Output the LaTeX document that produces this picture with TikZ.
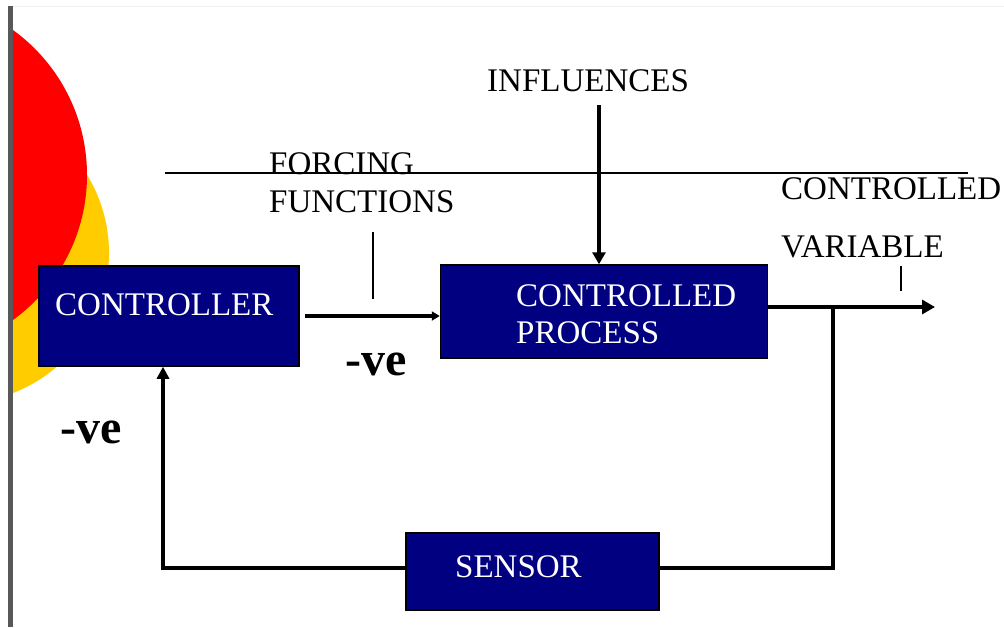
\documentclass[tikz,border=0pt]{standalone}
\usepackage{fontspec}
\setmainfont{Liberation Serif}
\usetikzlibrary{arrows.meta}
\definecolor{navybox}{HTML}{000080}
\definecolor{barcol}{HTML}{585858}
\definecolor{redc}{HTML}{FF0000}
\definecolor{yellowc}{HTML}{FFCC00}
\begin{document}
\begin{tikzpicture}[x=1pt,y=-1pt,
  box/.style={draw=black, line width=1.5pt, fill=navybox, inner sep=0pt},
  lbl/.style={font=\fontsize{33}{38}\selectfont, inner sep=0pt, anchor=base west},
  wlbl/.style={lbl, text=white},
  neg/.style={font=\fontsize{48}{50}\selectfont\bfseries, inner sep=0pt, anchor=base west},
  heavy/.style={line width=4pt},
  light/.style={line width=1.3pt}]
\useasboundingbox (0,0) rectangle (1004,627);
\fill[white] (0,0) rectangle (1004,627);
% background decoration
\begin{scope}
  \clip (13,0) rectangle (1004,627);
  \fill[yellowc] (-41,253) circle[radius=150pt];
  \fill[redc] (-92,175) circle[radius=179pt];
\end{scope}
\draw[color=black!6, line width=1pt] (13,6) -- (1004,6);
\fill[barcol] (8,6) rectangle (13,627);
% boxes
\node[box, minimum width=260pt, minimum height=100pt] (ctrl) at (169,316) {};
\node[box, minimum width=327pt, minimum height=93pt] (proc) at (604,311.5) {};
\node[box, minimum width=253pt, minimum height=77pt] (sens) at (532.5,571.5) {};
% box texts
\node[wlbl] (tctrl) at (55,315) {CONTROLLER};
\node[wlbl] (tproc1) at (516,306) {CONTROLLED};
\node[wlbl] (tproc2) at (516,343) {PROCESS};
\node[wlbl] (tsens) at (455,577) {SENSOR};
% outer labels
\node[lbl] (tinfl) at (487,91) {INFLUENCES};
\node[lbl] (tforce1) at (269,174) {FORCING};
\node[lbl] (tforce2) at (269,212) {FUNCTIONS};
\node[lbl] (tcv1) at (781,199) {CONTROLLED};
\node[lbl] (tcv2) at (781,257) {VARIABLE};
\node[neg] (neg1) at (345,375) {-ve};
\node[neg] (neg2) at (60,443) {-ve};
% thin lines
\coordinate (hl1) at (165,173);
\coordinate (hl2) at (968,173);
\draw[light] (hl1) -- (hl2);
\coordinate (ff1) at (373,232);
\coordinate (ff2) at (373,299);
\draw[light] (ff1) -- (ff2);
\coordinate (cv1) at (901,266);
\coordinate (cv2) at (901,291);
\draw[light] (cv1) -- (cv2);
% connectors
\coordinate (c2p) at (305,316);
\draw[heavy, -{Triangle[length=8pt,width=9pt]}] (c2p) -- (proc.west |- c2p);
\coordinate (infltop) at (599,105);
\draw[heavy, -{Triangle[length=12pt,width=13pt]}] (infltop) -- (proc.north -| infltop);
\coordinate (out) at (935,307);
\draw[heavy, -{Triangle[length=13pt,width=14pt]}] (proc.east |- out) -- (out);
\coordinate (fb1) at (833,307);
\coordinate (fb2) at (833,568);
\coordinate (fb3) at (163,568);
\draw[heavy] (fb1) -- (fb2) -- (sens.east |- fb2);
\draw[heavy, -{Triangle[length=12pt,width=12pt]}] (sens.west |- fb3) -- (fb3) -- (ctrl.south -| fb3);
\end{tikzpicture}
\end{document}
